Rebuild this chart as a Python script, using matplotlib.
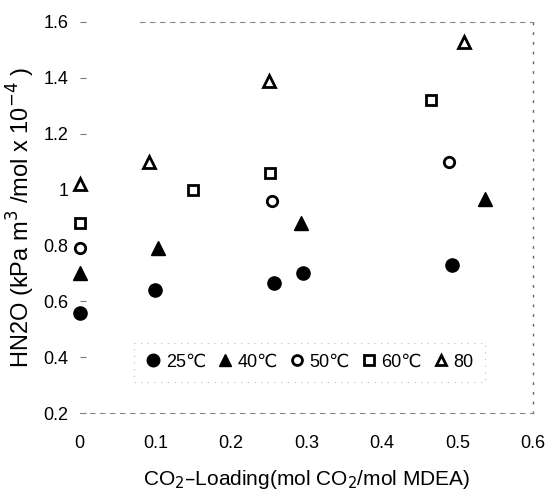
"""Henry's constant of N2O in loaded MDEA solutions at several temperatures."""

import matplotlib

matplotlib.use("Agg")
import matplotlib.pyplot as plt

plt.rcParams["font.family"] = ["Liberation Sans", "DejaVu Sans"]

# CO2 loading (mol CO2/mol MDEA) and HN2O values.
loading_25 = [0.0, 0.10, 0.257, 0.295, 0.493]
hn2o_25 = [0.56, 0.64, 0.665, 0.70, 0.73]

loading_40 = [0.0, 0.103, 0.293, 0.537]
hn2o_40 = [0.70, 0.79, 0.88, 0.965]

loading_50 = [0.0, 0.255, 0.489]
hn2o_50 = [0.79, 0.96, 1.10]

loading_60 = [0.0, 0.15, 0.252, 0.465]
hn2o_60 = [0.88, 1.00, 1.06, 1.32]

loading_80 = [0.0, 0.092, 0.25, 0.509]
hn2o_80 = [1.02, 1.10, 1.39, 1.53]

series_labels = ["25℃", "40℃", "50℃", "60℃", "80"]

x_ticks = [0, 0.1, 0.2, 0.3, 0.4, 0.5, 0.6]
x_tick_labels = ["0", "0.1", "0.2", "0.3", "0.4", "0.5", "0.6"]
y_ticks = [0.2, 0.4, 0.6, 0.8, 1.0, 1.2, 1.4, 1.6]
y_tick_labels = ["0.2", "0.4", "0.6", "0.8", "1", "1.2", "1.4", "1.6"]


def main() -> None:
    fig = plt.figure(figsize=(5.5, 4.99), dpi=100)
    ax = fig.add_axes([0.145, 0.172, 0.824, 0.784])

    # `styles` pairs each series with its marker look.
    styles = [
        (loading_25, hn2o_25, dict(marker="o", ms=9.5, mfc="black", mec="black")),
        (loading_40, hn2o_40, dict(marker="^", ms=9.5, mfc="black", mec="black")),
        (loading_50, hn2o_50, dict(marker="o", ms=7.5, mfc="white", mec="black", mew=2)),
        (loading_60, hn2o_60, dict(marker="s", ms=7.5, mfc="white", mec="black", mew=2)),
        (loading_80, hn2o_80, dict(marker="^", ms=8, mfc="white", mec="black", mew=2)),
    ]
    for (xs, ys, style), label in zip(styles, series_labels):
        ax.plot(xs, ys, linestyle="none", label=label, clip_on=False, **style)

    ax.set_xlim(0, 0.6)
    ax.set_ylim(0.2, 1.6)
    ax.set_xticks(x_ticks)
    ax.set_xticklabels(x_tick_labels)
    ax.set_yticks(y_ticks)
    ax.set_yticklabels(y_tick_labels)
    ax.tick_params(axis="x", length=0, pad=16, labelsize=13)
    ax.tick_params(axis="y", direction="in", length=4, width=0.8,
                   color="#777777", pad=8, labelsize=13)

    # Faint, broken frame like the scanned original.
    ax.spines["left"].set_visible(False)
    for side in ["top", "bottom"]:
        ax.spines[side].set_linestyle((0, (4, 5)))
        ax.spines[side].set_color("#888888")
        ax.spines[side].set_linewidth(0.8)
    ax.spines["top"].set_bounds(0.08, 0.6)
    ax.spines["right"].set_linestyle((0, (1, 6)))
    ax.spines["right"].set_color("#666666")
    ax.spines["right"].set_linewidth(1.0)

    legend = ax.legend(
        loc="center left",
        bbox_to_anchor=(0.1, 0.13),
        ncol=5,
        fontsize=13,
        handlelength=0.9,
        handletextpad=0.25,
        columnspacing=0.6,
        borderpad=0.6,
        fancybox=False,
        markerscale=0.95,
    )
    frame = legend.get_frame()
    frame.set_edgecolor("#aaaaaa")
    frame.set_linestyle((0, (1, 5)))
    frame.set_linewidth(0.8)

    ax.set_xlabel("CO$_2$–Loading(mol CO$_2$/mol MDEA)", fontsize=15, labelpad=11)
    ax.set_ylabel("HN2O (kPa m$^3$ /mol x 10$^{-4}$ )", fontsize=17, labelpad=5)

    fig.savefig("out.png", dpi=100)
    plt.close(fig)


if __name__ == "__main__":
    main()
